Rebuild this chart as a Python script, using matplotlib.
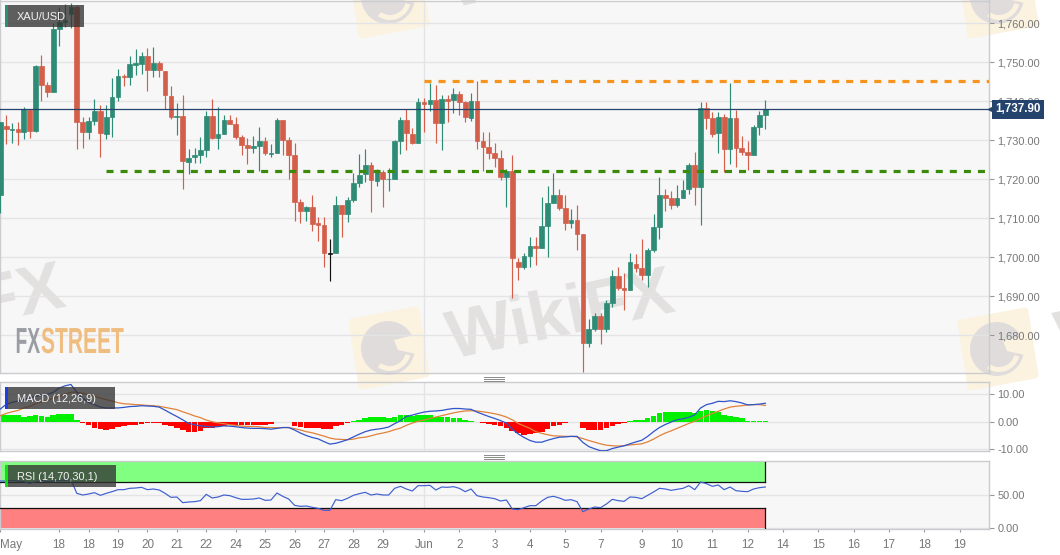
import numpy as np
import matplotlib
matplotlib.use("Agg")
import matplotlib.pyplot as plt
from matplotlib.patches import Polygon, Circle, Wedge, Rectangle
from matplotlib.patheffects import AbstractPathEffect
from matplotlib.transforms import Affine2D

plt.rcParams['font.family'] = ['Liberation Sans', 'DejaVu Sans']

# 4h candles, XAU/USD
opens = [1716, 1733.7, 1732.7, 1732.9, 1732, 1737.8, 1732.5, 1749.1, 1744.3, 1742.3,
         1758.5, 1760.4, 1762.4, 1764.1, 1734.6, 1732, 1735, 1737.4, 1731.6, 1736,
         1741, 1746.5, 1746.2, 1749.4, 1749.6, 1751.6, 1747.9, 1749.8, 1747.8, 1741.4,
         1735.9, 1736.2, 1724.5, 1725.6, 1726.2, 1727.5, 1736.3, 1730.6, 1731.6, 1735.2,
         1734.2, 1730.9, 1728.7, 1728, 1728.6, 1729.7, 1726.5, 1726.8, 1735.1, 1730.1,
         1726.2, 1714.2, 1711.8, 1712.8, 1708.7, 1708.4, 1701, 1701.1, 1713.5, 1711.1,
         1714.6, 1719, 1721.4, 1723.6, 1719.6, 1721.9, 1720, 1720.2, 1729.9, 1735.1,
         1731.6, 1729.4, 1739.8, 1739.2, 1740.4, 1734.5, 1740.6, 1740.3, 1741.9, 1739.7,
         1735.7, 1740.2, 1729.8, 1728.2, 1726.8, 1725.4, 1720.7, 1722.2, 1698.7, 1697.4,
         1700.4, 1702.9, 1702.4, 1708, 1713.8, 1716, 1712.6, 1708.9, 1709.5, 1705.9,
         1677.9, 1681.5, 1684.9, 1681.5, 1688.3, 1695.2, 1692, 1691.6, 1698.4, 1697.3,
         1695.5, 1701.8, 1707.7, 1716.1, 1715.2, 1713.4, 1715.2, 1717.4, 1723.6, 1717.9,
         1738.4, 1735.6, 1731.8, 1735.9, 1727.7, 1735.6, 1727.9, 1727, 1726.2, 1733.3,
         1736.6]
closes = [1734.8, 1733, 1733, 1732.2, 1738, 1732.5, 1749.1, 1744.3, 1742.3, 1758.5,
          1760.4, 1760.8, 1764.1, 1734.8, 1732, 1735, 1737.4, 1731.8, 1736, 1741,
          1746.5, 1746.2, 1749.6, 1749.7, 1751.7, 1747.9, 1749.7, 1747.9, 1741.5, 1735.9,
          1736.2, 1724.6, 1725.4, 1726.2, 1727.5, 1736.3, 1730.5, 1731.6, 1735.2, 1734.2,
          1730.9, 1728.7, 1728, 1728.5, 1729.7, 1726.8, 1726.8, 1735.1, 1730.1, 1726.2,
          1714.2, 1711.8, 1712.8, 1708.6, 1708.4, 1701, 1700.8, 1713.5, 1711.1, 1714.6,
          1719, 1721.1, 1723.7, 1719.8, 1721.9, 1720.2, 1720.2, 1729.8, 1735.1, 1731.8,
          1729.4, 1739.8, 1739.2, 1740.4, 1734.5, 1740.6, 1740.2, 1741.9, 1739.7, 1735.9,
          1740.1, 1729.9, 1728.2, 1726.8, 1725.5, 1720.7, 1722.2, 1699.7, 1697.6, 1700.4,
          1702.9, 1702.4, 1708, 1713.8, 1716, 1712.6, 1708.9, 1709.5, 1705.9, 1677.9,
          1681.5, 1684.9, 1681.5, 1688.3, 1695.2, 1692, 1691.6, 1698.7, 1697.3, 1695.5,
          1701.8, 1707.7, 1716.1, 1715.2, 1713.4, 1715.2, 1717.2, 1723.6, 1717.9, 1738.4,
          1735.6, 1731.6, 1735.9, 1727.7, 1735.6, 1727.9, 1727, 1726.2, 1733.3, 1736.5,
          1737.9]
highs = [1734.8, 1736.4, 1734.4, 1734.6, 1738.6, 1738, 1749.3, 1751.9, 1745, 1760,
         1764.3, 1765, 1765.3, 1764.7, 1735.9, 1736, 1740.5, 1739, 1739, 1745.9,
         1748.2, 1747, 1751.6, 1753.3, 1752.7, 1753.6, 1754, 1750.4, 1747.8, 1744,
         1739.5, 1741.7, 1727.7, 1727.9, 1730.8, 1737.4, 1740.5, 1738.6, 1736.5, 1736.4,
         1736.1, 1731.4, 1730.5, 1731.1, 1733.5, 1730.8, 1729, 1735.6, 1735.1, 1730.8,
         1729.2, 1715, 1713.2, 1716.1, 1710.4, 1710.3, 1704.8, 1715.6, 1713.5, 1715.4,
         1721.7, 1726.4, 1727.7, 1724.5, 1722.6, 1722.4, 1722.8, 1730.2, 1735.9, 1738,
         1733.1, 1740.8, 1740.8, 1744.6, 1744.1, 1741.7, 1741.7, 1743.3, 1742.7, 1740.2,
         1742.2, 1745.3, 1732.2, 1732, 1729.4, 1727.5, 1722.6, 1726.2, 1699.7, 1701,
         1705.3, 1705.3, 1715.5, 1718.4, 1721.7, 1717.4, 1716, 1712.5, 1713.5, 1705.9,
         1684.1, 1685.8, 1685.8, 1689, 1696.7, 1697.4, 1695.9, 1701, 1700.8, 1704.8,
         1702.3, 1711.2, 1720.6, 1717.4, 1717.1, 1718.5, 1719.8, 1724.2, 1727.1, 1739.9,
         1739.9, 1737.3, 1737.3, 1736.7, 1744.8, 1737.7, 1731.1, 1729.9, 1733.9, 1737.6,
         1740.3]
lows = [1711.3, 1729, 1729.4, 1728.7, 1730.3, 1730.5, 1732, 1740, 1741.2, 1742.3,
        1754.2, 1759, 1758.7, 1727.7, 1727.9, 1730.4, 1733.8, 1725.8, 1730.3, 1730.9,
        1740, 1743.8, 1744.3, 1746.8, 1747, 1742.7, 1746.3, 1746.2, 1738, 1735.4,
        1731.3, 1717.4, 1721.3, 1724.3, 1724.3, 1725.6, 1730.3, 1727.7, 1731.6, 1734.2,
        1730.3, 1726.2, 1723.9, 1726.7, 1722, 1726.2, 1725.6, 1726.8, 1726.3, 1720.2,
        1709.2, 1708.9, 1709.2, 1706.8, 1704.1, 1697.4, 1693.8, 1701.1, 1705.3, 1709.1,
        1714.3, 1718.1, 1719.4, 1711.5, 1718.3, 1713, 1717.1, 1720, 1726.4, 1727.4,
        1729, 1729.4, 1732.2, 1737.4, 1729.4, 1727.4, 1734.8, 1737.1, 1736.5, 1734.8,
        1735, 1727.7, 1722, 1725.1, 1723.1, 1719.8, 1713, 1689.5, 1694.3, 1696.9,
        1697.4, 1698, 1702.4, 1700.1, 1713.8, 1712.1, 1707, 1707.4, 1701.8, 1670.6,
        1677.1, 1681.2, 1677.7, 1680.8, 1687.3, 1691.6, 1686.5, 1691.6, 1696.2, 1694.3,
        1692.4, 1701.4, 1704.6, 1711.9, 1712.3, 1713, 1715.1, 1716.2, 1713.4, 1708.2,
        1733, 1730.9, 1726.8, 1721.9, 1723.9, 1723.2, 1726.2, 1722.5, 1726.2, 1731.3,
        1733]
black_candles = [56]

resistance = 1745.3
support = 1722
last_price = 1737.9

macd = [4.6, 6.3, 7.0, 7.5, 8.0, 8.7, 9.2, 9.7, 9.9, 10.7, 12.2, 13, 13.5, 10.7, 8.5, 7.0, 6.2, 5.3, 5.0, 5.0,
        5.0, 5.2, 5.5, 5.6, 5.8, 5.7, 5.6, 5.3, 4.2, 3.0, 1.9, 0.7, -0.6, -1.1, -1.5, -1.7, -1.9, -1.8, -1.5, -1.6,
        -1.8, -2.1, -2.3, -2.4, -2.4, -2.5, -2.7, -2.4, -2.1, -2.1, -3.0, -4.1, -5.0, -5.7, -6.2, -7.2, -8.1, -7.8, -7.2, -6.5,
        -5.5, -4.5, -3.6, -3.0, -2.7, -2.4, -1.9, -0.7, 0.4, 1.9, 2.4, 3.0, 3.5, 3.8, 3.9, 4.1, 4.5, 4.8, 4.8, 4.6,
        4.5, 3.5, 2.7, 1.9, 1.2, 0.4, -0.5, -2.7, -4.4, -5.7, -6.8, -7.4, -7.4, -6.7, -6.1, -5.6, -5.5, -5.3, -5.3, -7.5,
        -9.0, -9.8, -10.5, -10.5, -9.7, -9.2, -8.7, -8.0, -7.3, -6.7, -5.3, -3.6, -2.1, -1.0, -0.1, 0.7, 1.1, 1.6, 2.5, 5.0,
        6.2, 6.7, 7.4, 7.3, 7.6, 7.3, 6.8, 6.1, 6.2, 6.4, 6.7]
signal = [2.2, 3.0, 3.6, 4.1, 5.0, 5.6, 6.5, 7.2, 7.8, 8.5, 9.2, 10, 10.7, 10.7, 10.3, 9.8, 9.2, 8.6, 8.0, 7.5,
          6.9, 6.5, 6.4, 6.2, 6.1, 5.9, 5.8, 5.6, 5.2, 4.8, 4.4, 3.6, 2.9, 2.1, 1.5, 0.6, 0, -0.4, -0.7, -1.1,
          -1.3, -1.6, -1.7, -1.7, -1.8, -2.1, -2.1, -2.2, -2.1, -2.1, -2.5, -3.0, -3.6, -4.0, -4.6, -5.2, -5.9, -6.3, -6.4, -6.5,
          -6.3, -5.8, -5.6, -5.1, -4.5, -4.1, -3.6, -2.9, -2.3, -1.3, -0.5, 0.2, 0.6, 1.2, 1.7, 2.2, 2.7, 3.2, 3.6, 3.9,
          4.0, 3.9, 3.6, 3.3, 2.9, 2.4, 1.7, 0.7, -0.6, -1.5, -2.4, -3.6, -4.2, -4.7, -5.1, -5.2, -5.3, -5.3, -5.5, -6.1,
          -6.8, -7.4, -8.0, -8.5, -8.7, -8.8, -8.7, -8.4, -8.2, -8.0, -7.3, -6.3, -5.1, -4.1, -3.3, -2.4, -1.5, -0.6, 0.2, 1.2,
          2.2, 3.0, 3.8, 4.6, 5.3, 5.6, 5.8, 6.1, 6.2, 6.2, 5.9]
hist = [2.4, 2.4, 2.4, 2.4, 1.9, 2.2, 2.4, 2.2, 1.9, 2.4, 2.8, 2.8, 2.8, 0.6, -0.4, -1.2, -2.1, -2.7, -3.0, -2.7,
        -1.9, -1.7, -1.3, -1, -0.7, -0.5, -0.5, -0.5, -1, -1.7, -2.2, -3, -3.6, -3.6, -3.3, -2.4, -2.1, -1.8, -1.5, -1.3,
        -1.2, -1.1, -1.1, -1.2, -1.1, -1, -0.8, -0.2, -0.1, -0.1, -1.7, -1.9, -2.2, -2.3, -2.3, -2.7, -2.8, -1.7, -1.1, -0.4,
        0.1, 0.7, 1.3, 1.6, 1.6, 1.6, 1.5, 1.6, 2.4, 2.4, 2.2, 2.4, 2.5, 2.5, 1.9, 1.8, 1.6, 1.5, 1.2, 0.6,
        0.2, -0.1, -0.5, -0.8, -1.1, -1.7, -2.1, -3.3, -4.2, -4.7, -4.5, -4.2, -3.6, -2.7, -1.5, -1.1, -0.5, -0.2, -0.1, -2.3,
        -2.9, -2.9, -2.9, -2.4, -1.5, -0.7, -0.4, 0.1, 0.5, 0.7, 1.3, 2.2, 3, 3.4, 3.4, 3.4, 3.4, 3.4, 3.3, 3.8,
        4.1, 3.9, 3.5, 2.5, 2.2, 1.9, 1.3, 0.2, 0.1, 0.1, 0.4]
rsi = [71, 71, 72, 71, 70, 67.5, 70, 72, 70, 71, 72, 72, 73, 52.5, 50, 51.5, 53.5, 49.5, 52.5, 55,
       58, 58, 60, 60.5, 61.5, 58, 59, 57.5, 52.5, 46.5, 47, 38.5, 39.5, 40, 41.5, 51, 45.5, 47, 50, 49,
       46, 43.5, 43.5, 44, 45.5, 42, 42.5, 53, 48, 44, 34.5, 33, 33.5, 31.5, 30, 27, 27, 43, 41.5, 45,
       49.5, 52, 54, 50, 51.5, 50, 50, 60, 63, 59, 56, 64, 64, 64.5, 57.5, 62, 61.5, 62.5, 60, 55,
       59, 49, 47, 46, 44.5, 41, 42.5, 29, 28, 31, 34, 34, 41, 46.5, 48, 45.5, 42, 43, 40, 25,
       29, 32, 31, 36.5, 43.5, 41.5, 40.5, 47, 46.5, 44.5, 49.5, 54.5, 60, 59, 57, 58.5, 60, 64, 58, 69.5,
       67, 63, 65, 58, 62, 56.5, 55.5, 55, 59, 61, 62]

tick_pos = [0, 10, 15, 20, 25, 30, 35, 40, 45, 50, 55, 60, 65, 72, 78, 84, 90, 96, 102, 109, 115, 121, 127, 133, 139, 145, 151, 157, 163]
tick_labels = ["May", "18", "18", "19", "20", "21", "22", "24", "25", "26", "27", "28", "29", "Jun", "2", "3", "4", "5", "7", "9", "10", "11", "12", "14", "15", "16", "17", "18", "19"]
price_ticks = [1680, 1690, 1700, 1710, 1720, 1730, 1740, 1750, 1760]

W, H = 1060, 555
GREEN = "#2e8b76"
RED = "#d35f4b"
GRID = "#e4e4e6"
EDGE = "#cbcbd0"
TXT = "#777777"
NAVY = "#24436d"
PALE = "#fbf3df"


def px_axes(left, top, right, bottom, **kw):
    return fig.add_axes([left/W, 1-bottom/H, (right-left)/W, (bottom-top)/H], **kw)


class Stretch(AbstractPathEffect):
    # the logo lettering is much narrower than any installed font
    def __init__(self, x0, y0, sx, sy):
        super().__init__()
        self.t = Affine2D().translate(-x0, -y0).scale(sx, sy).translate(x0, y0)

    def draw_path(self, renderer, gc, tpath, affine, rgbFace=None):
        renderer.draw_path(gc, tpath, affine + self.t, rgbFace)


fig = plt.figure(figsize=(W/100, H/100), dpi=100, facecolor="white")

# background layer: panels and watermarks
bg = px_axes(0, 0, W, H, zorder=0)
bg.set_xlim(0, W)
bg.set_ylim(H, 0)
bg.axis("off")
for top, bottom in [(0.5, 373), (382, 451), (461, 529)]:
    bg.add_patch(Rectangle((1, top), 988.3, bottom-top, fc="#f7f7f7", ec="none"))
for cx, cy in [(388, 348), (997, 349), (388, -3), (997, -3)]:
    corners = np.array([(-36, -26), (28, -38), (38, 26), (-26, 38)]) + (cx, cy)
    bg.add_patch(Polygon(corners, closed=True, fc=PALE, ec=PALE, lw=5, joinstyle="round"))
    bg.add_patch(Circle((cx, cy), 27, fc="#e0dcdc", ec="none"))
    # crescent and beak gaps of the eagle head
    bg.add_patch(Wedge((cx+2, cy+2), 21, 15, 125, width=5, fc=PALE, ec="none"))
    bg.add_patch(Polygon([(cx+6, cy-8), (cx+30, cy-14), (cx+28, cy+6), (cx+10, cy+2)], closed=True, fc=PALE, ec="none"))
for cx, cy in [(561, 317), (-48, 312), (1170, 317), (561, -34), (1170, -34)]:
    bg.text(cx, cy, "WikiFX", fontsize=50, fontweight="bold", color="#e3e0e0", rotation=12,
            ha="center", va="center", rotation_mode="anchor", clip_on=True)

x = np.arange(len(opens))
opens, closes, highs, lows = map(np.array, (opens, closes, highs, lows))
xlim = ((0-0.3)/5.885, (989.3-0.3)/5.885)

# price panel
ax = px_axes(0, 0.5, 989.3, 373, zorder=1)
ax.patch.set_alpha(0)
cols = [GREEN if c >= o else RED for o, c in zip(opens, closes)]
for i in black_candles:
    cols[i] = "#111111"
ax.vlines(x, lows, highs, colors=cols, lw=0.85, zorder=3)
ax.bar(x, np.abs(closes-opens), bottom=np.minimum(opens, closes), width=0.8, color=cols, edgecolor=cols, lw=0.5, zorder=3)
ax.axhline(last_price, color=NAVY, lw=0.9, zorder=4)
ax.plot([72, xlim[1]], [resistance, resistance], color="#f7941d", lw=2.3, dashes=(2.2, 2.2), zorder=4)
ax.plot([18, xlim[1]], [support, support], color="#3c8a0a", lw=2.3, dashes=(2.2, 2.2), zorder=4)
ax.set_ylim(1760-(373-23.3)/3.9, 1760+(23.3-0.5)/3.9)
ax.set_yticks(price_ticks)
ax.set_yticklabels([f"{p:,.2f}" for p in price_ticks])
ax.plot([1.002], [last_price], marker="<", ms=4, color=NAVY, clip_on=False, transform=ax.get_yaxis_transform(), zorder=10)
ax.text(1.0058, last_price, f"{last_price:,.2f}", transform=ax.get_yaxis_transform(), color="white",
        fontweight="bold", fontsize=8.4, va="center", ha="left", zorder=10,
        bbox=dict(boxstyle="square,pad=0.28", fc=NAVY, ec=NAVY, lw=0))

# MACD panel
ax2 = px_axes(0, 382, 989.3, 451, zorder=1)
ax2.patch.set_alpha(0)
ax2.bar(x, hist, width=0.95, color=["#00f000" if h >= 0 else "#ff0000" for h in hist], zorder=2)
ax2.plot(x, signal, color="#e0823a", lw=0.9, zorder=3)
ax2.plot(x, macd, color="#2f55c8", lw=0.9, zorder=3)
ax2.set_ylim(-10.6, 14.4)
ax2.set_yticks([-10, 0, 10])
ax2.set_yticklabels(["-10.00", "0.00", "10.00"])

# RSI panel
ax3 = px_axes(0, 461, 989.3, 529, zorder=1)
ax3.patch.set_alpha(0)
ax3.fill_between([x[0]-1, x[-1]], 70, 99.5, color="#80ff80", lw=0, zorder=2)
ax3.fill_between([x[0]-1, x[-1]], 0, 30, color="#ff8080", lw=0, zorder=2)
ax3.plot([x[0]-1, x[-1]], [70, 70], color="#111111", lw=0.9, zorder=3)
ax3.plot([x[0]-1, x[-1]], [30, 30], color="#111111", lw=0.9, zorder=3)
ax3.plot([x[-1], x[-1]], [70, 99.5], color="#111111", lw=0.9, zorder=3)
ax3.plot([x[-1], x[-1]], [0, 30], color="#111111", lw=0.9, zorder=3)
ax3.plot(x, rsi, color="#3d5fd0", lw=0.85, zorder=4)
ax3.set_ylim(-1, 101)
ax3.set_yticks([0, 50])
ax3.set_yticklabels(["0.00", "50.00"])

for a in (ax, ax2, ax3):
    a.set_xlim(*xlim)
    a.yaxis.tick_right()
    a.tick_params(axis="y", length=3.5, width=0.8, color="#999999", labelcolor=TXT, labelsize=7.9, pad=2.2)
    a.grid(axis="y", color=GRID, lw=1, zorder=0)
    a.set_axisbelow(True)
    a.axvline(tick_pos[13], color=GRID, lw=1, zorder=1)
    for s in a.spines.values():
        s.set_color(EDGE)
        s.set_linewidth(1)
    a.set_xticks([])
ax3.set_xticks(tick_pos)
ax3.set_xticklabels(tick_labels)
ax3.tick_params(axis="x", length=2, width=0.8, color="#999999", labelcolor=TXT, labelsize=8.4, pad=5)
ax3.get_xticklabels()[0].set_ha("left")

# overlay layer: name boxes, grab handles, logo
top = px_axes(0, 0, W, H, zorder=5)
top.set_xlim(0, W)
top.set_ylim(H, 0)
top.axis("off")
boxes = [("XAU/USD", 5, 84, 5, 27, GREEN), ("MACD (12,26,9)", 5, 115, 387, 409, "#1f3fe0"), ("RSI (14,70,30,1)", 5, 116, 465, 487, "#10e010")]
for name, x0, x1, y0, y1, strip in boxes:
    top.add_patch(Rectangle((x0, y0), x1-x0, y1-y0, fc="#333333", alpha=0.78, ec="none"))
    top.add_patch(Rectangle((x0, y0), 3, y1-y0, fc=strip, ec="none"))
    top.text(17, (y0+y1)/2+0.5, name, color="#f2f2f2", fontsize=7.9, va="center", ha="left")
for y0 in (376.5, 455):
    for dy in (0, 2, 4):
        top.plot([484, 504], [y0+dy, y0+dy], color="#8a8a8a", lw=0.7)

top.text(15.5, 353, "FX", color="#9a9da3", fontsize=18, fontweight="bold", ha="left", va="baseline",
         path_effects=[Stretch(15.5, H-353, 0.77, 1.45)])
top.text(41, 353, "STREET", color="#efbd7f", fontsize=18, fontweight="bold", ha="left", va="baseline",
         path_effects=[Stretch(41, H-353, 0.84, 1.45)])

fig.savefig("out.png", dpi=100)
